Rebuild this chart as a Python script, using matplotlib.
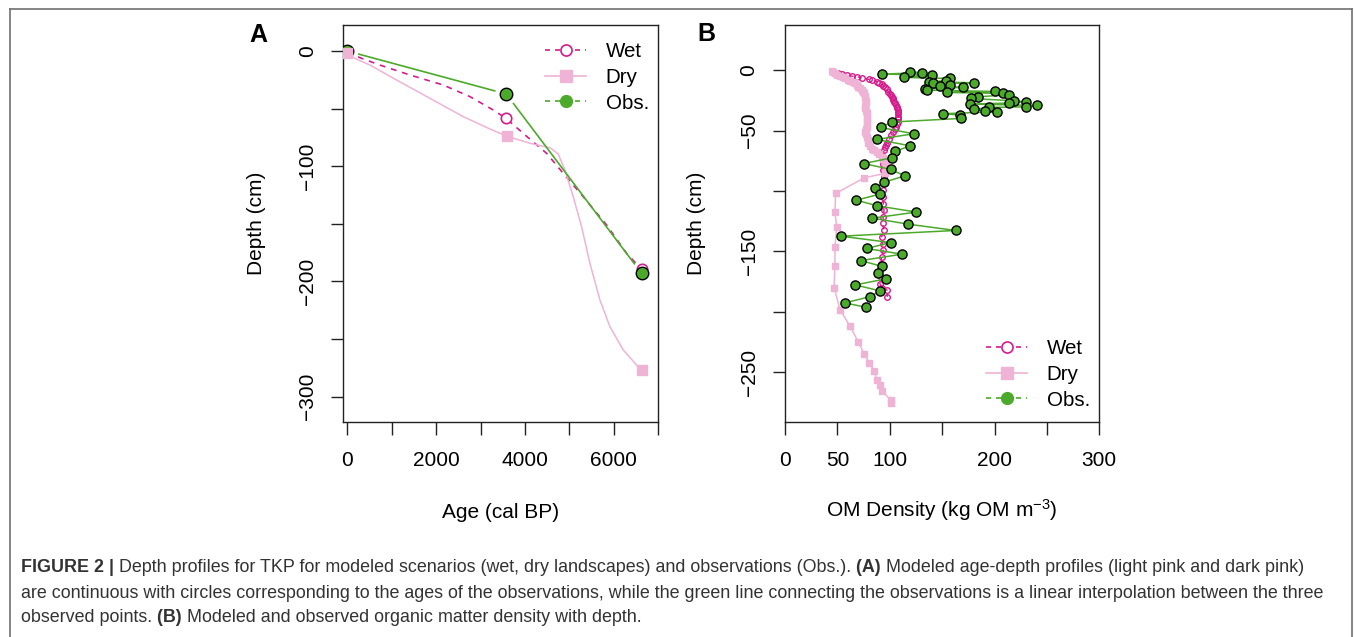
import numpy as np
import matplotlib
matplotlib.use("Agg")
import matplotlib.pyplot as plt
from matplotlib.lines import Line2D

plt.rcParams['font.family'] = ['Liberation Sans', 'DejaVu Sans']
plt.rcParams['mathtext.fontset'] = 'custom'
plt.rcParams['mathtext.rm'] = 'Liberation Sans'
plt.rcParams['mathtext.it'] = 'Liberation Sans:italic'

# ---------------- Panel A data ----------------
age_obs = [0, 3578, 6624]
depth_obs = [0, -37.3, -193]

age_wet_pts = [0, 3571, 6624]
depth_wet_pts = [-1, -58.4, -189.5]
age_wet_curve = [0, 300, 736, 1411, 2160, 2761, 3285, 3571, 3960, 4486, 4861, 5310, 5836, 6286, 6624]
depth_wet_curve = [-1, -6, -12.2, -20.8, -29.5, -39.6, -51.2, -58.4, -71.5, -88.8, -106.2, -126.5, -151, -175.6, -189.5]

age_dry_pts = [0, 3586, 6624]
depth_dry_pts = [-2, -73.8, -276.9]
age_dry_curve = [0, 150, 511, 1111, 1861, 2610, 3211, 3586, 4111, 4561, 4748, 4898, 5085, 5273, 5461, 5686, 5911, 6210, 6511, 6624]
depth_dry_curve = [-2, -6, -12.2, -25.2, -41.1, -57, -67.7, -73.8, -80.1, -83.9, -89.4, -103.3, -126.5, -152.5, -184.3, -216.1, -239.3, -259.5, -272.6, -276.9]

# ---------------- Panel B data ----------------
om_wet = [46.1, 50.9, 54.1, 58.8, 63.6, 68.4, 73.2, 80.2, 83.0, 87.5, 90.0, 92.2, 94.0, 95.4, 97.0, 98.6,
          99.8, 101.0, 101.8, 102.8, 103.5, 104.0, 105.0, 105.8, 106.5, 107.0, 107.6, 108.1, 108.3, 108.1,
          107.8, 107.5, 106.8, 105.9, 104.8, 103.4, 101.5, 99.5, 97.8, 96.4, 95.3, 94.5, 93.8, 93.2, 93.8,
          94.5, 94.5, 93.8, 93.2, 93.8, 94.5, 93.8, 93.2, 94.5, 92.2, 93.2, 93.8, 92.2, 91.6, 90.6, 91.6,
          90.6, 92.2, 97.6, 97.6]
depth_wet = [-1.4, -2.2, -3.3, -4.1, -5.0, -5.5, -6.4, -7.7, -8.5, -9.7, -10.5, -11.6, -12.8, -14.4, -16.0, -17.9,
             -19.5, -21.0, -22.1, -23.5, -25.0, -26.2, -27.5, -29.0, -30.4, -31.5, -33.0, -34.5, -36.0, -38.6,
             -40.5, -42.8, -44.5, -46.9, -49.0, -51.1, -54.0, -57.4, -60.0, -62.1, -64.0, -66.2, -71.7, -77.3, -82.8,
             -88.3, -93.8, -99.3, -104.8, -110.4, -115.9, -121.4, -126.9, -132.5, -138.0, -143.5, -149.0, -154.6, -160.1, -165.6, -171.1,
             -176.6, -180.7, -182.1, -187.6]

om_dry = [44.5, 46.0, 47.7, 50.0, 52.5, 55.0, 57.3, 60.0, 62.0, 64.5, 66.8, 68.5, 70.0, 71.8, 73.2, 74.5, 75.4,
          76.0, 76.3, 77.0, 77.3, 76.8, 76.3, 77.2, 77.9, 78.4, 78.6, 78.2, 77.9, 77.0, 76.3, 77.2, 77.9, 78.8,
          79.5, 81.0, 82.7, 85.0, 87.5, 90.0, 92.2, 94.0, 95.4, 96.5, 97.0, 96.2, 95.4, 75.7, 48.3, 47.7, 49.3,
          47.7, 47.7, 46.8, 52.5, 62.0, 70.0, 75.4, 80.5, 85.2, 87.5, 90.6, 92.2, 100.8, 100.8]
depth_dry = [-0.8, -1.8, -2.8, -3.9, -5.0, -5.9, -6.9, -7.9, -8.8, -9.9, -11.0, -12.4, -13.8, -15.2, -16.6, -18.0, -19.3,
             -21.4, -23.5, -25.5, -27.6, -29.7, -31.7, -33.8, -35.9, -38.6, -41.4, -44.1, -46.9, -49.0, -51.1, -53.2, -55.2, -58.0,
             -60.7, -62.8, -64.9, -66.2, -67.6, -69.6, -71.7, -73.8, -75.9, -78.0, -80.0, -82.8, -85.5, -89.1, -102.1, -117.3, -130.2,
             -146.2, -162.0, -179.9, -198.1, -211.9, -224.9, -234.5, -242.3, -249.2, -256.1, -260.8, -265.7, -272.6, -275.4]

om_obs = [119.3, 130.4, 92.6, 140.0, 113.6, 157.5, 153.3, 137.7, 180.4, 141.6, 157.5, 147.9, 169.5, 133.6,
          135.8, 200.4, 154.9, 208.3, 213.4, 184.5, 177.2, 218.5, 230.0, 213.4, 176.5, 240.2, 230.0, 194.7,
          180.4, 190.9, 202.0, 150.5, 167.0, 167.6, 102.1, 91.6, 122.8, 87.5, 119.3, 105.3, 101.8, 75.4,
          100.8, 114.5, 94.8, 86.2, 90.7, 68.1, 88.1, 125.3, 83.3, 117.7, 162.9, 53.4, 100.8, 77.9, 111.7,
          72.5, 92.9, 88.4, 96.7, 67.1, 90.7, 81.4, 57.3, 77.0]
depth_obs_b = [-1.4, -2.2, -3.3, -4.1, -6.1, -6.9, -8.8, -9.7, -10.5, -11.0, -12.1, -13.2, -14.3, -15.5,
               -16.6, -17.7, -18.5, -19.3, -20.4, -22.1, -23.5, -25.4, -26.2, -27.3, -28.1, -29.3, -30.4, -30.9,
               -32.6, -33.7, -34.5, -36.1, -37.2, -40.0, -43.0, -47.5, -52.7, -57.4, -62.6, -67.3, -72.6, -77.3,
               -82.2, -87.5, -92.7, -97.4, -102.6, -107.6, -112.3, -117.5, -122.5, -127.5, -132.7, -137.4, -142.7, -147.6, -152.3,
               -157.6, -162.5, -167.5, -172.7, -177.7, -182.7, -187.4, -192.6, -196.2]

labels = ["Wet", "Dry", "Obs."]
xticks_a = [0, 1000, 2000, 3000, 4000, 5000, 6000, 7000]
xticklabels_a = ["0", "", "2000", "", "4000", "", "6000", ""]
yticks_a = [0, -50, -100, -150, -200, -250, -300]
yticklabels_a = ["0", "", "\u2212100", "", "\u2212200", "", "\u2212300"]
xticks_b = [0, 50, 100, 150, 200, 250, 300]
xticklabels_b = ["0", "50", "100", "", "200", "", "300"]
yticks_b = [0, -50, -100, -150, -200, -250]
yticklabels_b = ["0", "\u221250", "", "\u2212150", "", "\u2212250"]

WET = "#D41C8C"
DRY = "#EFB3D6"
OBS = "#4CAA2A"

W, H = 1355, 637
fig = plt.figure(figsize=(W / 100, H / 100), dpi=100)


def fx(x):
    return x / W


def fy(y):
    return 1 - y / H


def style_axes(ax, xt, xtl, yt, ytl):
    for s in ax.spines.values():
        s.set_linewidth(1.0)
        s.set_color("#222222")
    ax.set_xticks(xt)
    ax.set_xticklabels(xtl)
    ax.set_yticks(yt)
    ax.set_yticklabels(ytl)
    ax.tick_params(direction='out', length=9, width=1.0, color="#222222", labelsize=15, pad=12)
    ax.tick_params(axis='y', pad=10)
    for lab in ax.get_yticklabels():
        lab.set_rotation(90)
        lab.set_va('center')
        lab.set_ha('right')


axA = fig.add_axes([fx(343.3), fy(422.3), fx(658.3) - fx(343.3), fy(25) - fy(422.3)])
axB = fig.add_axes([fx(785), fy(422.3), fx(1099.3) - fx(785), fy(25) - fy(422.3)])

axA.set_xlim(-90, 7000)
axA.set_ylim(-322.3, 22.6)
axB.set_xlim(0, 300)
axB.set_ylim(-291.4, 37.3)
style_axes(axA, xticks_a, xticklabels_a, yticks_a, yticklabels_a)
style_axes(axB, xticks_b, xticklabels_b, yticks_b, yticklabels_b)


def gapped_line(ax, xs, ys, gap_px, **kw):
    trans = ax.transData
    inv = trans.inverted()
    P = trans.transform(np.column_stack([xs, ys]))
    for a, b in zip(P[:-1], P[1:]):
        d = b - a
        L = np.hypot(*d)
        if L <= 2 * gap_px:
            continue
        u = d / L
        seg = inv.transform(np.vstack([a + u * gap_px, b - u * gap_px]))
        ax.plot(seg[:, 0], seg[:, 1], **kw)


# ---- Panel A ----
axA.plot(age_wet_curve, depth_wet_curve, color=WET, lw=1.2, dashes=(3.5, 3.5), zorder=2)
axA.plot(age_wet_pts, depth_wet_pts, ls='none', marker='o', ms=7.5, mfc='white', mec=WET, mew=1.2, zorder=3)
gapped_line(axA, age_obs, depth_obs, 12, color=OBS, lw=1.2, zorder=3)
axA.plot(age_obs, depth_obs, ls='none', marker='o', ms=9, mfc=OBS, mec='black', mew=1.0, zorder=4)
axA.plot(age_dry_curve, depth_dry_curve, color=DRY, lw=1.1, zorder=2)
axA.plot(age_dry_pts, depth_dry_pts, ls='none', marker='s', ms=7.5, mfc=DRY, mec=DRY, zorder=5)

# ---- Panel B ----
axB.plot(om_wet, depth_wet, color=WET, lw=1.0, dashes=(3, 3), marker='o', ms=4, mfc='none', mec=WET, mew=1.0, zorder=2)
axB.plot(om_dry, depth_dry, color=DRY, lw=1.1, marker='s', ms=4, mfc=DRY, mec=DRY, zorder=3)
axB.plot(om_obs, depth_obs_b, color=OBS, lw=1.1, marker='o', ms=6.6, mfc=OBS, mec='black', mew=1.0, zorder=4)

# ---- Legends ----
handles = [
    Line2D([], [], color=WET, dashes=(3, 3), lw=1.2, marker='o', ms=8, mfc='white', mec=WET, mew=1.2),
    Line2D([], [], color=DRY, lw=1.2, marker='s', ms=8, mfc=DRY, mec=DRY),
    Line2D([], [], color=OBS, dashes=(3, 3), lw=1.2, marker='o', ms=8.5, mfc=OBS, mec=OBS),
]
for (lx, ly) in [(545, 42), (986, 339)]:
    fig.legend(handles, labels, loc='upper left', bbox_to_anchor=(fx(lx), fy(ly)),
               bbox_transform=fig.transFigure, frameon=False, fontsize=14.8,
               handlelength=2.0, handletextpad=0.95, labelspacing=0.33, borderpad=0, borderaxespad=0)

# ---- Axis labels & panel letters ----
fig.text(fx(500.7), fy(512), "Age (cal BP)", ha='center', va='center', fontsize=15)
fig.text(fx(256), fy(223.5), "Depth (cm)", ha='center', va='center', rotation=90, fontsize=15)
fig.text(fx(942), fy(510), "OM Density (kg OM m$^{-3}$)", ha='center', va='center', fontsize=15)
fig.text(fx(697), fy(223.5), "Depth (cm)", ha='center', va='center', rotation=90, fontsize=15)
fig.text(fx(258), fy(35), "A", ha='center', va='center', fontsize=18, fontweight='bold')
fig.text(fx(706), fy(34), "B", ha='center', va='center', fontsize=18, fontweight='bold')

# ---- Outer frame ----
FR = "#6f6f6f"
fig.add_artist(Line2D([fx(9.5), fx(1351.5)], [fy(9), fy(9)], color=FR, lw=1.2, transform=fig.transFigure))
fig.add_artist(Line2D([fx(9.5), fx(9.5)], [fy(9), fy(640)], color=FR, lw=1.2, transform=fig.transFigure))
fig.add_artist(Line2D([fx(1351.5), fx(1351.5)], [fy(9), fy(640)], color=FR, lw=1.2, transform=fig.transFigure))

# ---- Caption ----
caption = [
    [("FIGURE 2 | ", True), ("Depth profiles for TKP for modeled scenarios (wet, dry landscapes) and observations (Obs.). ", False),
     ("(A) ", True), ("Modeled age-depth profiles (light pink and dark pink)", False)],
    [("are continuous with circles corresponding to the ages of the observations, while the green line connecting the observations is a linear interpolation between the three", False)],
    [("observed points. ", False), ("(B) ", True), ("Modeled and observed organic matter density with depth.", False)],
]
CAP_C = "#333333"
renderer = fig.canvas.get_renderer()
x_start = 21.0
probe = fig.text(0, 0, caption[1][0][0], fontsize=12)
wpx = probe.get_window_extent(renderer).width
probe.remove()
cap_fs = 12 * (1321 - x_start) / wpx
line_y = [568, 593, 618]
for segs, yy in zip(caption, line_y):
    x = x_start
    for txt, bold in segs:
        t = fig.text(fx(x), fy(yy), txt, fontsize=cap_fs, fontweight='bold' if bold else 'normal',
                     color=CAP_C, ha='left', va='center')
        bb = t.get_window_extent(renderer)
        x += bb.width

fig.savefig("out.png", dpi=100)
